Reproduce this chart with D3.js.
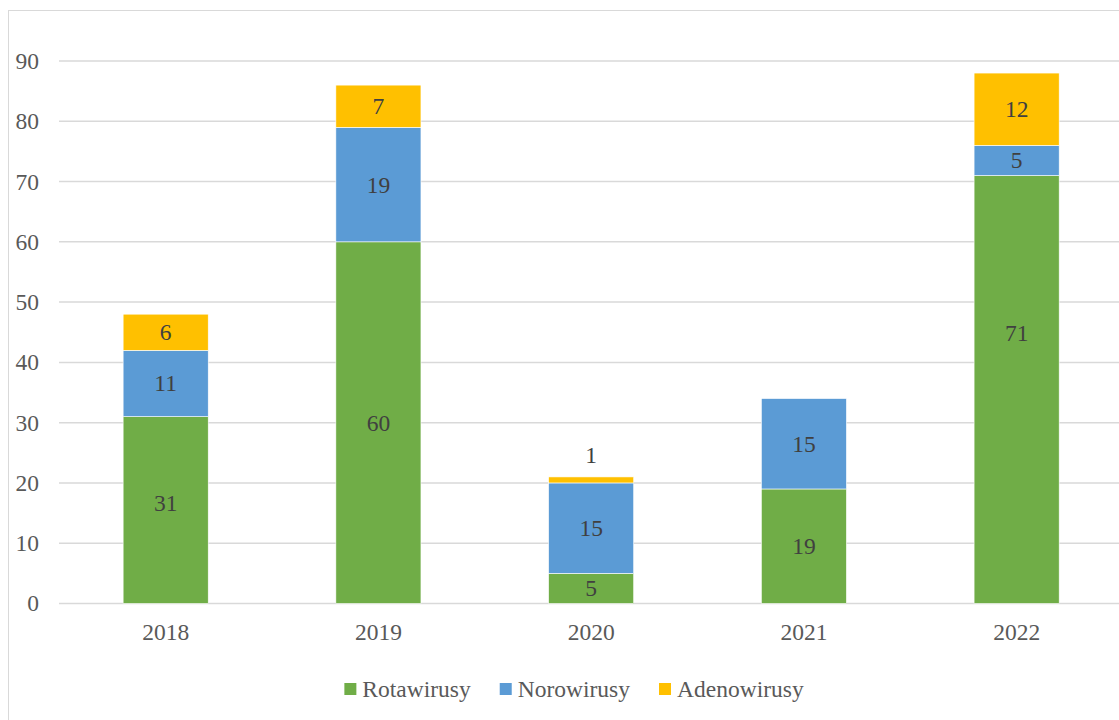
<!DOCTYPE html>
<html>
<head>
<meta charset="utf-8">
<script src="https://cdn.jsdelivr.net/npm/d3@7"></script>
<style>
  body { margin: 0; background: #fff; }
</style>
</head>
<body>
<svg width="1119" height="720" font-family="'Liberation Serif', 'Times New Roman', Times, serif"></svg>
<script>
var years = ['2018', '2019', '2020', '2021', '2022'];
var rota = [31, 60, 5, 19, 71];
var noro = [11, 19, 15, 15, 5];
var adeno = [6, 7, 1, 0, 12];
var seriesNames = ['Rotawirusy', 'Norowirusy', 'Adenowirusy'];
var seriesColors = ['#70ad47', '#5b9bd5', '#ffc000'];
var yTicks = [0, 10, 20, 30, 40, 50, 60, 70, 80, 90];

// label nudges (px) copied from how the original placed a few labels
var labelNudge = { 'Rotawirusy-2018': -7, 'Rotawirusy-2022': -57 };
var fontSize = '23.5px';

var svg = d3.select('svg');

// outer chart frame
svg.append('rect')
    .attr('x', 8.5).attr('y', 10.5)
    .attr('width', 1130).attr('height', 730)
    .style('fill', 'none')
    .style('stroke', '#d9d9d9');

var x = d3.scaleBand()
    .domain(years)
    .range([59.3, 1123])
    .paddingInner(0.6)
    .paddingOuter(0.3);

var y = d3.scaleLinear()
    .domain([0, 90])
    .range([603.5, 61]);

// gridlines
svg.append('g')
    .selectAll('line')
    .data(yTicks)
    .join('line')
    .attr('x1', 59)
    .attr('x2', 1119)
    .attr('y1', function(d) { return y(d); })
    .attr('y2', function(d) { return y(d); })
    .style('stroke', '#d9d9d9')
    .style('stroke-width', 1.5);

// y labels
svg.append('g')
    .selectAll('text')
    .data(yTicks)
    .join('text')
    .attr('x', 39)
    .attr('y', function(d) { return y(d); })
    .attr('dy', '0.34em')
    .attr('text-anchor', 'end')
    .style('font-size', fontSize)
    .style('fill', '#595959')
    .text(function(d) { return d; });

// x labels
svg.append('g')
    .selectAll('text')
    .data(years)
    .join('text')
    .attr('x', function(d) { return x(d) + x.bandwidth() / 2; })
    .attr('y', 640)
    .attr('text-anchor', 'middle')
    .style('font-size', fontSize)
    .style('fill', '#595959')
    .text(function(d) { return d; });

var table = years.map(function(yr, i) {
    return { year: yr, Rotawirusy: rota[i], Norowirusy: noro[i], Adenowirusy: adeno[i] };
});
var stacked = d3.stack().keys(seriesNames)(table);

var layers = svg.append('g')
    .selectAll('g')
    .data(stacked)
    .join('g')
    .style('fill', function(d, i) { return seriesColors[i]; });

layers.selectAll('rect')
    .data(function(d) { return d; })
    .join('rect')
    .attr('x', function(d) { return x(d.data.year); })
    .attr('width', x.bandwidth())
    .attr('y', function(d) { return y(d[1]); })
    .attr('height', function(d) { return y(d[0]) - y(d[1]); })
    .style('stroke', '#ffffff')
    .style('stroke-width', 0.6);

// data labels
var labels = [];
stacked.forEach(function(s) {
    s.forEach(function(d) {
        var v = d[1] - d[0];
        if (v > 0) labels.push({ key: s.key + '-' + d.data.year, year: d.data.year, v: v, lo: d[0], hi: d[1] });
    });
});

svg.append('g')
    .selectAll('text')
    .data(labels)
    .join('text')
    .attr('x', function(d) { return x(d.year) + x.bandwidth() / 2; })
    .attr('y', function(d) {
        // very thin segments get their label above the bar
        if (d.v < 2) return y(d.hi) - 22;
        return (y(d.lo) + y(d.hi)) / 2 + (labelNudge[d.key] || 0);
    })
    .attr('dy', '0.34em')
    .attr('text-anchor', 'middle')
    .style('font-size', fontSize)
    .style('fill', '#404040')
    .text(function(d) { return d.v; });

// legend
var legend = svg.append('g');
var items = legend.selectAll('g')
    .data(seriesNames)
    .join('g');
items.append('rect')
    .attr('width', 12).attr('height', 12)
    .attr('y', 683)
    .style('fill', function(d, i) { return seriesColors[i]; });
items.append('text')
    .attr('x', 18)
    .attr('y', 697)
    .style('font-size', fontSize)
    .style('fill', '#595959')
    .text(function(d) { return d; });

var widths = [];
items.each(function() { widths.push(this.querySelector('text').getComputedTextLength() + 18); });
var gap = 29;
var total = d3.sum(widths) + gap * (widths.length - 1);
var start = 574 - total / 2;
var pos = [];
widths.reduce(function(acc, w) { pos.push(acc); return acc + w + gap; }, start);
items.attr('transform', function(d, i) { return 'translate(' + pos[i] + ',0)'; });
</script>
</body>
</html>
